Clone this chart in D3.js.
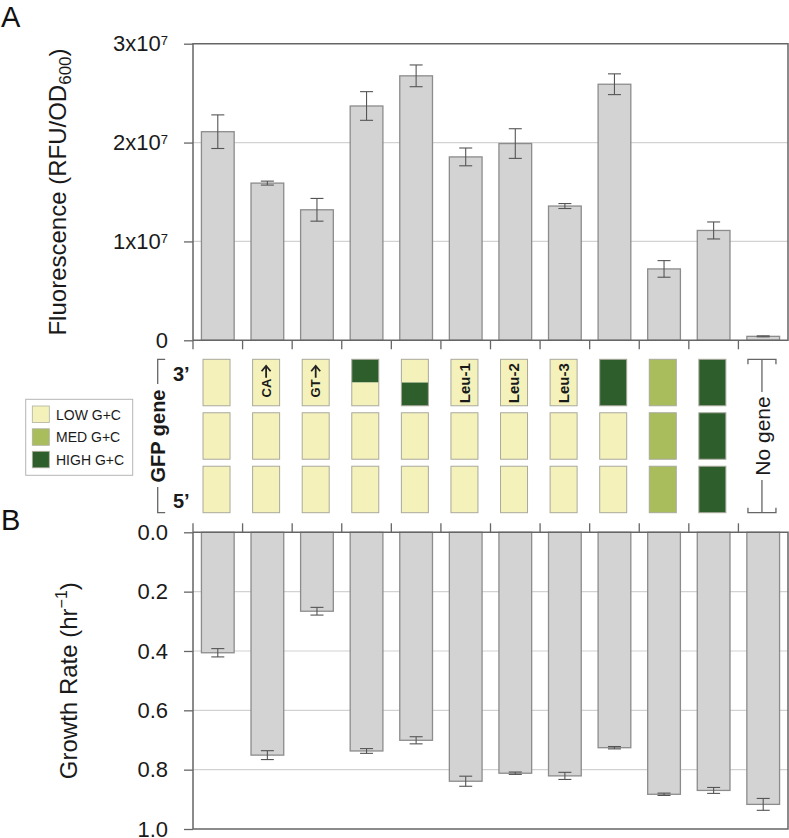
<!DOCTYPE html>
<html>
<head>
<meta charset="utf-8">
<script src="https://cdn.jsdelivr.net/npm/d3@7"></script>
<style>
  html, body { margin: 0; padding: 0; background: #fff; }
  svg { display: block; font-family: "Liberation Sans", Arial, Helvetica, sans-serif; }
</style>
</head>
<body>
<svg id="chart" width="789" height="838"></svg>
<script>
// ---------------- DATA ----------------
const categories = ["c1","c2","c3","c4","c5","c6","c7","c8","c9","c10","c11","c12"];
// Panel A: fluorescence (RFU/OD600)
const fluorescence = [2.11e7, 1.59e7, 1.32e7, 2.37e7, 2.675e7, 1.855e7, 1.99e7, 1.358e7, 2.59e7, 0.722e7, 1.111e7, 0.04e7];
const fluorescenceErr = [0.17e7, 0.02e7, 0.115e7, 0.145e7, 0.11e7, 0.09e7, 0.15e7, 0.025e7, 0.105e7, 0.084e7, 0.086e7, 0.005e7];
const fluorTicks = [0, 1e7, 2e7, 3e7];
const fluorTickBase = ["0", "1x10", "2x10", "3x10"];
const fluorTickExp = ["", "7", "7", "7"];
// Panel B: growth rate (hr^-1)
const growth = [0.406, 0.751, 0.266, 0.737, 0.701, 0.839, 0.812, 0.821, 0.726, 0.883, 0.870, 0.917];
const growthErr = [0.014, 0.015, 0.013, 0.008, 0.012, 0.017, 0.004, 0.012, 0.004, 0.004, 0.010, 0.020];
const growthTicks = [0, 0.2, 0.4, 0.6, 0.8, 1.0];
// GFP gene composition: rows 3' (top), middle, 5' (bottom); top row may be split
const geneRow3 = [["low"],["low"],["low"],["high","low"],["low","high"],["low"],["low"],["low"],["high"],["med"],["high"],null];
const geneRowMid = ["low","low","low","low","low","low","low","low","low","med","high",null];
const geneRow5 = ["low","low","low","low","low","low","low","low","low","med","high",null];
const geneLabels = [null,"CA","GT",null,null,"Leu-1","Leu-2","Leu-3",null,null,null,null];
const geneArrow = [false,true,true,false,false,false,false,false,false,false,false,false];
const legendKeys = ["low","med","high"];
const legendLabels = ["LOW G+C","MED G+C","HIGH G+C"];
const gcColors = {low: "#f4f2ba", med: "#a9bd5c", high: "#2e5e2c"};

// ---------------- SETUP ----------------
const svg = d3.select("#chart");
const left = 193, right = 788;
const axisColor = "#666", gridColor = "#d2d2d2", barFill = "#d3d3d3", barStroke = "#8c8c8c", errColor = "#555";

const x = d3.scaleBand().domain(categories).range([left, right]).paddingInner(0.34).paddingOuter(0.17);
const step = x.step();
const boundaries = d3.range(12).map(i => left + i * step);

const yA = d3.scaleLinear().domain([0, 3e7]).range([340.3, 43.7]);
const yB = d3.scaleLinear().domain([0, 1]).range([532.3, 829]);

// ---------------- PANEL A ----------------
const gA = svg.append("g");
gA.selectAll("line.grid").data([1e7, 2e7]).join("line")
  .attr("x1", left).attr("x2", right)
  .attr("y1", d => yA(d)).attr("y2", d => yA(d))
  .attr("stroke", gridColor).attr("stroke-width", 1.2);

gA.selectAll("rect.bar").data(categories).join("rect")
  .attr("x", d => x(d)).attr("width", x.bandwidth())
  .attr("y", (d, i) => yA(fluorescence[i]))
  .attr("height", (d, i) => yA(0) - yA(fluorescence[i]))
  .attr("fill", barFill).attr("stroke", barStroke).attr("stroke-width", 1.3);

const errA = gA.selectAll("g.err").data(categories).join("g")
  .attr("stroke", errColor).attr("stroke-width", 1.1);
errA.append("line")
  .attr("x1", d => x(d) + x.bandwidth() / 2).attr("x2", d => x(d) + x.bandwidth() / 2)
  .attr("y1", (d, i) => yA(fluorescence[i] + fluorescenceErr[i]))
  .attr("y2", (d, i) => yA(fluorescence[i] - fluorescenceErr[i]));
[1, -1].forEach(s => {
  errA.append("line")
    .attr("x1", d => x(d) + x.bandwidth() / 2 - 6.5).attr("x2", d => x(d) + x.bandwidth() / 2 + 6.5)
    .attr("y1", (d, i) => yA(fluorescence[i] + s * fluorescenceErr[i]))
    .attr("y2", (d, i) => yA(fluorescence[i] + s * fluorescenceErr[i]));
});

// y axis A
const axA = gA.append("g").attr("transform", `translate(${left},0)`)
  .call(d3.axisLeft(yA).tickValues(fluorTicks).tickSize(9).tickSizeOuter(0).tickPadding(16));
axA.select(".domain").remove();
axA.selectAll(".tick line").attr("stroke", axisColor).attr("stroke-width", 1.3);
axA.selectAll(".tick text").each(function(d, i) {
  const t = d3.select(this).text("").attr("font-size", 22).attr("fill", "#1a1a1a")
    .attr("font-family", "Liberation Sans, Arial, sans-serif");
  t.append("tspan").text(fluorTickBase[i]);
  if (fluorTickExp[i]) t.append("tspan").attr("font-size", 13).attr("dy", -6).text(fluorTickExp[i]);
});
// frame A
gA.append("path")
  .attr("d", `M${left},${yA(0)}V${yA(3e7)}H${right}V${yA(0)}H${left}`)
  .attr("fill", "none").attr("stroke", axisColor).attr("stroke-width", 1.5);
gA.selectAll("line.xt").data(boundaries).join("line")
  .attr("x1", d => d).attr("x2", d => d)
  .attr("y1", yA(0)).attr("y2", yA(0) + 9)
  .attr("stroke", axisColor).attr("stroke-width", 1.3);

// title A
const tA = svg.append("text")
  .attr("transform", `translate(66,${(yA(0) + yA(3e7)) / 2}) rotate(-90)`)
  .attr("text-anchor", "middle").attr("font-size", 24).attr("fill", "#1a1a1a");
tA.append("tspan").text("Fluorescence (RFU/OD");
tA.append("tspan").attr("font-size", 17).attr("dy", 5).text("600");
tA.append("tspan").attr("dy", -5).text(")");

svg.append("text").attr("x", 1).attr("y", 27).attr("font-size", 29).attr("fill", "#111").text("A");
svg.append("text").attr("x", 1).attr("y", 529.5).attr("font-size", 29).attr("fill", "#111").text("B");

// ---------------- GENE DIAGRAM ----------------
const rowY = d3.scaleBand().domain([0, 1, 2]).range([359.3, 512.7]).paddingInner(0.131).paddingOuter(0);
const boxW = 27;
const boxX = c => x(c) + 1.6;
const gG = svg.append("g");
const rowsData = [geneRow3.map(r => r), geneRowMid.map(v => v ? [v] : null), geneRow5.map(v => v ? [v] : null)];
rowsData.forEach((row, ri) => {
  categories.forEach((c, ci) => {
    const segs = row[ci];
    if (!segs) return;
    const y0 = rowY(ri), h = rowY.bandwidth();
    const sh = h / segs.length;
    const g = gG.append("g");
    segs.forEach((s, si) => {
      g.append("rect").attr("x", boxX(c)).attr("y", y0 + si * sh).attr("width", boxW).attr("height", sh)
        .attr("fill", gcColors[s]).attr("stroke", "none");
    });
    g.append("rect").attr("x", boxX(c)).attr("y", y0).attr("width", boxW).attr("height", h)
      .attr("fill", "none").attr("stroke", "#a9a99c").attr("stroke-width", 1);
  });
});
// labels in 3' boxes
categories.forEach((c, ci) => {
  const lab = geneLabels[ci];
  if (!lab) return;
  const cx = boxX(c) + boxW / 2;
  const y0 = rowY(0), y1 = rowY(0) + rowY.bandwidth();
  const isArrow = geneArrow[ci];
  const fs = isArrow ? 13 : 15;
  const ys = isArrow ? y1 - 8.3 : y1 - 2.5;
  gG.append("text").attr("transform", `translate(${cx},${ys}) rotate(-90)`)
    .attr("text-anchor", "start").attr("dy", "0.36em").attr("font-size", fs).attr("font-weight", "bold")
    .attr("fill", "#1a1a1a").text(lab);
  if (isArrow) {
    const tip = y0 + 6.5, tail = y0 + 18.5;
    gG.append("path").attr("d", `M${cx},${tail}V${tip}M${cx - 4.5},${tip + 5.5}L${cx},${tip}L${cx + 4.5},${tip + 5.5}`)
      .attr("fill", "none").attr("stroke", "#222").attr("stroke-width", 1.8);
  }
});
// "No gene" bracket for last category
(function() {
  const c = categories[11];
  const cx = boxX(c) + boxW / 2;
  const top = rowY(0), bot = rowY(2) + rowY.bandwidth();
  const mid = (top + bot) / 2;
  gG.append("path")
    .attr("d", `M${cx - 14},${top + 5}V${top}H${cx + 14}V${top + 5}M${cx},${top}V${mid - 44}` +
               `M${cx},${mid + 44}V${bot}M${cx - 14},${bot - 5}V${bot}H${cx + 14}V${bot - 5}`)
    .attr("fill", "none").attr("stroke", "#666").attr("stroke-width", 1.3);
  gG.append("text").attr("transform", `translate(${cx},${mid}) rotate(-90)`)
    .attr("text-anchor", "middle").attr("dy", "0.36em").attr("font-size", 21).attr("fill", "#1a1a1a").text("No gene");
})();
// GFP gene bracket
(function() {
  const bx = 157.7;
  const top = rowY(0), bot = rowY(2) + rowY.bandwidth();
  const mid = (top + bot) / 2;
  gG.append("path")
    .attr("d", `M${bx + 7.5},${top}H${bx}V${mid - 52}M${bx},${mid + 51}V${bot}H${bx + 7.5}`)
    .attr("fill", "none").attr("stroke", "#666").attr("stroke-width", 1.3);
  gG.append("text").attr("transform", `translate(${bx},${mid}) rotate(-90)`)
    .attr("text-anchor", "middle").attr("dy", "0.36em").attr("font-size", 20).attr("font-weight", "bold")
    .attr("fill", "#1a1a1a").text("GFP gene");
  gG.append("text").attr("x", 173).attr("y", 380.5).attr("font-size", 20).attr("font-weight", "bold").attr("fill", "#1a1a1a").text("3\u2019");
  gG.append("text").attr("x", 173).attr("y", 508).attr("font-size", 20).attr("font-weight", "bold").attr("fill", "#1a1a1a").text("5\u2019");
})();
// legend
const lg = svg.append("g");
lg.append("rect").attr("x", 25.7).attr("y", 399.3).attr("width", 107).attr("height", 76)
  .attr("fill", "#fff").attr("stroke", "#b5b5b5").attr("stroke-width", 1);
const lgY = [406, 428.8, 451.3];
legendKeys.forEach((k, i) => {
  lg.append("rect").attr("x", 32.3).attr("y", lgY[i]).attr("width", 17).attr("height", 16.5)
    .attr("fill", gcColors[k]).attr("stroke", "#b0b0a0").attr("stroke-width", 0.8);
  lg.append("text").attr("x", 56).attr("y", lgY[i] + 13.5).attr("font-size", 14).attr("fill", "#1a1a1a").text(legendLabels[i]);
});

// ---------------- PANEL B ----------------
const gB = svg.append("g");
gB.selectAll("line.grid").data([0.2, 0.4, 0.6, 0.8]).join("line")
  .attr("x1", left).attr("x2", right)
  .attr("y1", d => yB(d)).attr("y2", d => yB(d))
  .attr("stroke", gridColor).attr("stroke-width", 1.2);
gB.selectAll("rect.bar").data(categories).join("rect")
  .attr("x", d => x(d)).attr("width", x.bandwidth())
  .attr("y", yB(0))
  .attr("height", (d, i) => yB(growth[i]) - yB(0))
  .attr("fill", barFill).attr("stroke", barStroke).attr("stroke-width", 1.3);
const errB = gB.selectAll("g.err").data(categories).join("g")
  .attr("stroke", errColor).attr("stroke-width", 1.1);
errB.append("line")
  .attr("x1", d => x(d) + x.bandwidth() / 2).attr("x2", d => x(d) + x.bandwidth() / 2)
  .attr("y1", (d, i) => yB(growth[i] - growthErr[i]))
  .attr("y2", (d, i) => yB(growth[i] + growthErr[i]));
[1, -1].forEach(s => {
  errB.append("line")
    .attr("x1", d => x(d) + x.bandwidth() / 2 - 6.5).attr("x2", d => x(d) + x.bandwidth() / 2 + 6.5)
    .attr("y1", (d, i) => yB(growth[i] + s * growthErr[i]))
    .attr("y2", (d, i) => yB(growth[i] + s * growthErr[i]));
});
const axB = gB.append("g").attr("transform", `translate(${left},0)`)
  .call(d3.axisLeft(yB).tickValues(growthTicks).tickFormat(d3.format(".1f")).tickSize(9).tickSizeOuter(0).tickPadding(16));
axB.select(".domain").remove();
axB.selectAll(".tick line").attr("stroke", axisColor).attr("stroke-width", 1.3);
axB.selectAll(".tick text").attr("font-size", 22).attr("fill", "#1a1a1a")
  .attr("font-family", "Liberation Sans, Arial, sans-serif");
gB.append("path")
  .attr("d", `M${left},${yB(0)}V${yB(1)}H${right}V${yB(0)}H${left}`)
  .attr("fill", "none").attr("stroke", axisColor).attr("stroke-width", 1.5);
gB.selectAll("line.xt").data(boundaries).join("line")
  .attr("x1", d => d).attr("x2", d => d)
  .attr("y1", yB(0)).attr("y2", yB(0) - 9)
  .attr("stroke", axisColor).attr("stroke-width", 1.3);

const tB = svg.append("text")
  .attr("transform", `translate(77,${(yB(0) + yB(1)) / 2}) rotate(-90)`)
  .attr("text-anchor", "middle").attr("font-size", 24).attr("fill", "#1a1a1a");
tB.append("tspan").text("Growth Rate (hr");
tB.append("tspan").attr("font-size", 16).attr("dy", -10).text("\u22121");
tB.append("tspan").attr("dy", 10).text(")");
</script>
</body>
</html>
